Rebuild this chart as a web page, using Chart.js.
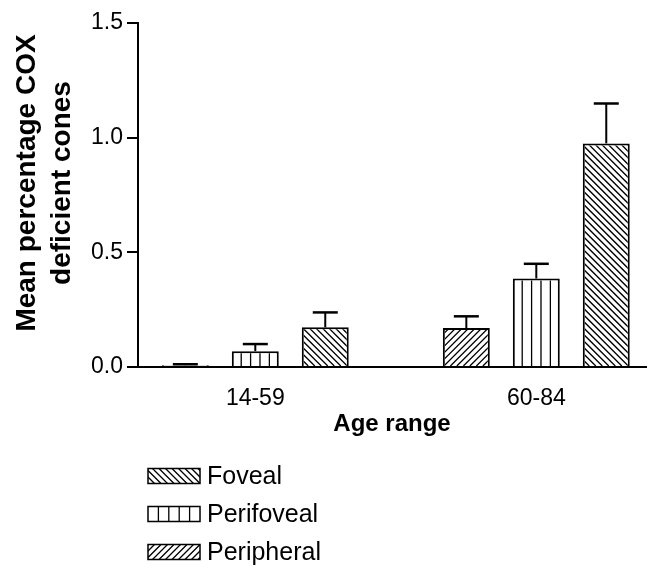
<!DOCTYPE html>
<html lang="en">
<head>
  <meta charset="UTF-8">
  <title>COX deficient cones by age range</title>
  <script src="https://cdn.jsdelivr.net/npm/chart.js"></script>
  <style>
    html, body { margin: 0; padding: 0; background: #fff; }
    .chart-container { position: relative; width: 648px; height: 568px; }
  </style>
</head>
<body>
  <div class="chart-container">
    <canvas id="myChart"></canvas>
  </div>

  <script>
    // Data
    const ageRanges = ['14-59', '60-84'];
    const peripheral = [0.008, 0.170];
    const perifoveal = [0.069, 0.386];
    const foveal = [0.173, 0.975];
    const peripheralErr = [0.004, 0.051];
    const perifovealErr = [0.031, 0.064];
    const fovealErr = [0.065, 0.174];
    const yTicks = [0, 0.5, 1.0, 1.5];
    const legendOrder = ['Foveal', 'Perifoveal', 'Peripheral'];
    const yTitleLines = ['Mean percentage COX', 'deficient cones'];

    const FONT = 'Arial, "Liberation Sans", Helvetica, sans-serif';
    Chart.defaults.font.family = FONT;
    Chart.defaults.color = '#000';

    // Draw hatch lines inside a rectangle (clipped to inner box)
    const drawHatch = (ctx, outer, inner, kind) => {
      if (inner.w <= 0 || inner.h <= 0) return;
      ctx.save();
      ctx.beginPath();
      ctx.rect(inner.x, inner.y, inner.w, inner.h);
      ctx.clip();
      ctx.strokeStyle = '#000';
      ctx.lineWidth = 1.3;
      ctx.beginPath();
      if (kind === 'vertical') {
        for (let k = 1; k < 5; k++) {
          const xx = outer.x + outer.w * k / 5;
          ctx.moveTo(xx, outer.y);
          ctx.lineTo(xx, outer.y + outer.h);
        }
      } else {
        const s = 6.5;
        const h = outer.h;
        for (let c = -h - s; c < outer.w + h + s; c += s) {
          if (kind === 'down') {
            ctx.moveTo(outer.x + c, outer.y);
            ctx.lineTo(outer.x + c + h, outer.y + h);
          } else {
            ctx.moveTo(outer.x + c, outer.y + h);
            ctx.lineTo(outer.x + c + h, outer.y);
          }
        }
      }
      ctx.stroke();
      ctx.restore();
    };

    // Hatching and one-sided error bars
    const hatchPlugin = {
      id: 'hatchBars',
      afterDatasetsDraw(chart) {
        const ctx = chart.ctx;
        const yScale = chart.scales.y;
        chart.data.datasets.forEach((ds, i) => {
          const meta = chart.getDatasetMeta(i);
          meta.data.forEach((bar, j) => {
            const { x, y, base, width } = bar.getProps(['x', 'y', 'base', 'width'], true);
            const top = Math.min(y, base);
            const h = Math.abs(base - y);
            const bw = ds.borderWidth;
            const outer = { x: x - width / 2, y: top, w: width, h: h };
            const inner = { x: outer.x + bw, y: top + bw, w: width - 2 * bw, h: h - bw };
            drawHatch(ctx, outer, inner, ds.hatch);

            const errTop = yScale.getPixelForValue(ds.data[j].y + ds.errors[j]);
            ctx.save();
            ctx.strokeStyle = '#000';
            ctx.lineWidth = 2;
            ctx.beginPath();
            ctx.moveTo(x, y);
            ctx.lineTo(x, errTop);
            ctx.stroke();
            ctx.lineWidth = 2.5;
            ctx.beginPath();
            ctx.moveTo(x - 12.5, errTop);
            ctx.lineTo(x + 12.5, errTop);
            ctx.stroke();
            ctx.restore();
          });
        });
      }
    };

    // Two-line y title, a bit above the axis centre like the original
    const yTitlePlugin = {
      id: 'yTitle',
      afterDraw(chart) {
        const ctx = chart.ctx;
        ctx.save();
        ctx.translate(27, 183);
        ctx.rotate(-Math.PI / 2);
        ctx.fillStyle = '#000';
        ctx.font = 'bold 28px ' + FONT;
        ctx.textAlign = 'center';
        ctx.textBaseline = 'middle';
        yTitleLines.forEach((line, k) => ctx.fillText(line, 0, k * 35));
        ctx.restore();
      }
    };

    // Legend stacked below the axis
    const legendPlugin = {
      id: 'hatchLegend',
      afterDraw(chart) {
        const ctx = chart.ctx;
        legendOrder.forEach((name, k) => {
          const ds = chart.data.datasets.find(d => d.label === name);
          const cy = 476 + k * 38;
          const box = { x: 148, y: cy - 7.5, w: 52, h: 15 };
          ctx.save();
          ctx.fillStyle = '#fff';
          ctx.fillRect(box.x, box.y, box.w, box.h);
          drawHatch(ctx, box, box, ds.hatch);
          ctx.strokeStyle = '#000';
          ctx.lineWidth = 1.5;
          ctx.strokeRect(box.x, box.y, box.w, box.h);
          ctx.fillStyle = '#000';
          ctx.font = '25px ' + FONT;
          ctx.textBaseline = 'middle';
          ctx.fillText(name, 207, cy + 1);
          ctx.restore();
        });
      }
    };

    const makeDataset = (label, values, errors, hatch) => ({
      label: label,
      data: values.map((v, i) => ({ x: i, y: v })),
      errors: errors,
      hatch: hatch,
      backgroundColor: '#fff',
      borderColor: '#000',
      borderWidth: 2
    });

    const ctx = document.getElementById('myChart').getContext('2d');
    const chart = new Chart(ctx, {
      type: 'bar',
      data: {
        datasets: [
          makeDataset('Peripheral', peripheral, peripheralErr, 'up'),
          makeDataset('Perifoveal', perifoveal, perifovealErr, 'vertical'),
          makeDataset('Foveal', foveal, fovealErr, 'down')
        ]
      },
      options: {
        responsive: true,
        maintainAspectRatio: false,
        animation: false,
        categoryPercentage: 0.747,
        barPercentage: 0.671,
        layout: { padding: { top: 23, right: 2, bottom: 121, left: 0 } },
        plugins: {
          legend: { display: false },
          tooltip: { enabled: false }
        },
        scales: {
          x: {
            type: 'linear',
            offset: false,
            min: -0.4174,
            max: 1.3904,
            grid: { display: false },
            border: { display: true, color: '#000', width: 2 },
            afterBuildTicks: axis => { axis.ticks = ageRanges.map((_, i) => ({ value: i })); },
            afterFit: axis => { axis.height = 80; },
            ticks: {
              color: '#000',
              font: { size: 23 },
              padding: 10,
              maxRotation: 0,
              autoSkip: false,
              callback: v => ageRanges[v]
            },
            title: {
              display: true,
              text: 'Age range',
              color: '#000',
              font: { size: 24, weight: 'bold', lineHeight: 1.2 },
              padding: { top: 0, bottom: 8 }
            }
          },
          y: {
            min: 0,
            max: 1.5,
            afterBuildTicks: axis => { axis.ticks = yTicks.map(v => ({ value: v })); },
            afterFit: axis => { axis.width = 138; },
            grid: { display: true, drawOnChartArea: false, drawTicks: true, tickLength: 11, color: '#000', lineWidth: 2 },
            border: { display: true, color: '#000', width: 2 },
            ticks: {
              color: '#000',
              font: { size: 23 },
              padding: 4,
              callback: v => v.toFixed(1)
            },
            title: { display: false }
          }
        }
      },
      plugins: [hatchPlugin, yTitlePlugin, legendPlugin]
    });
  </script>
</body>
</html>
